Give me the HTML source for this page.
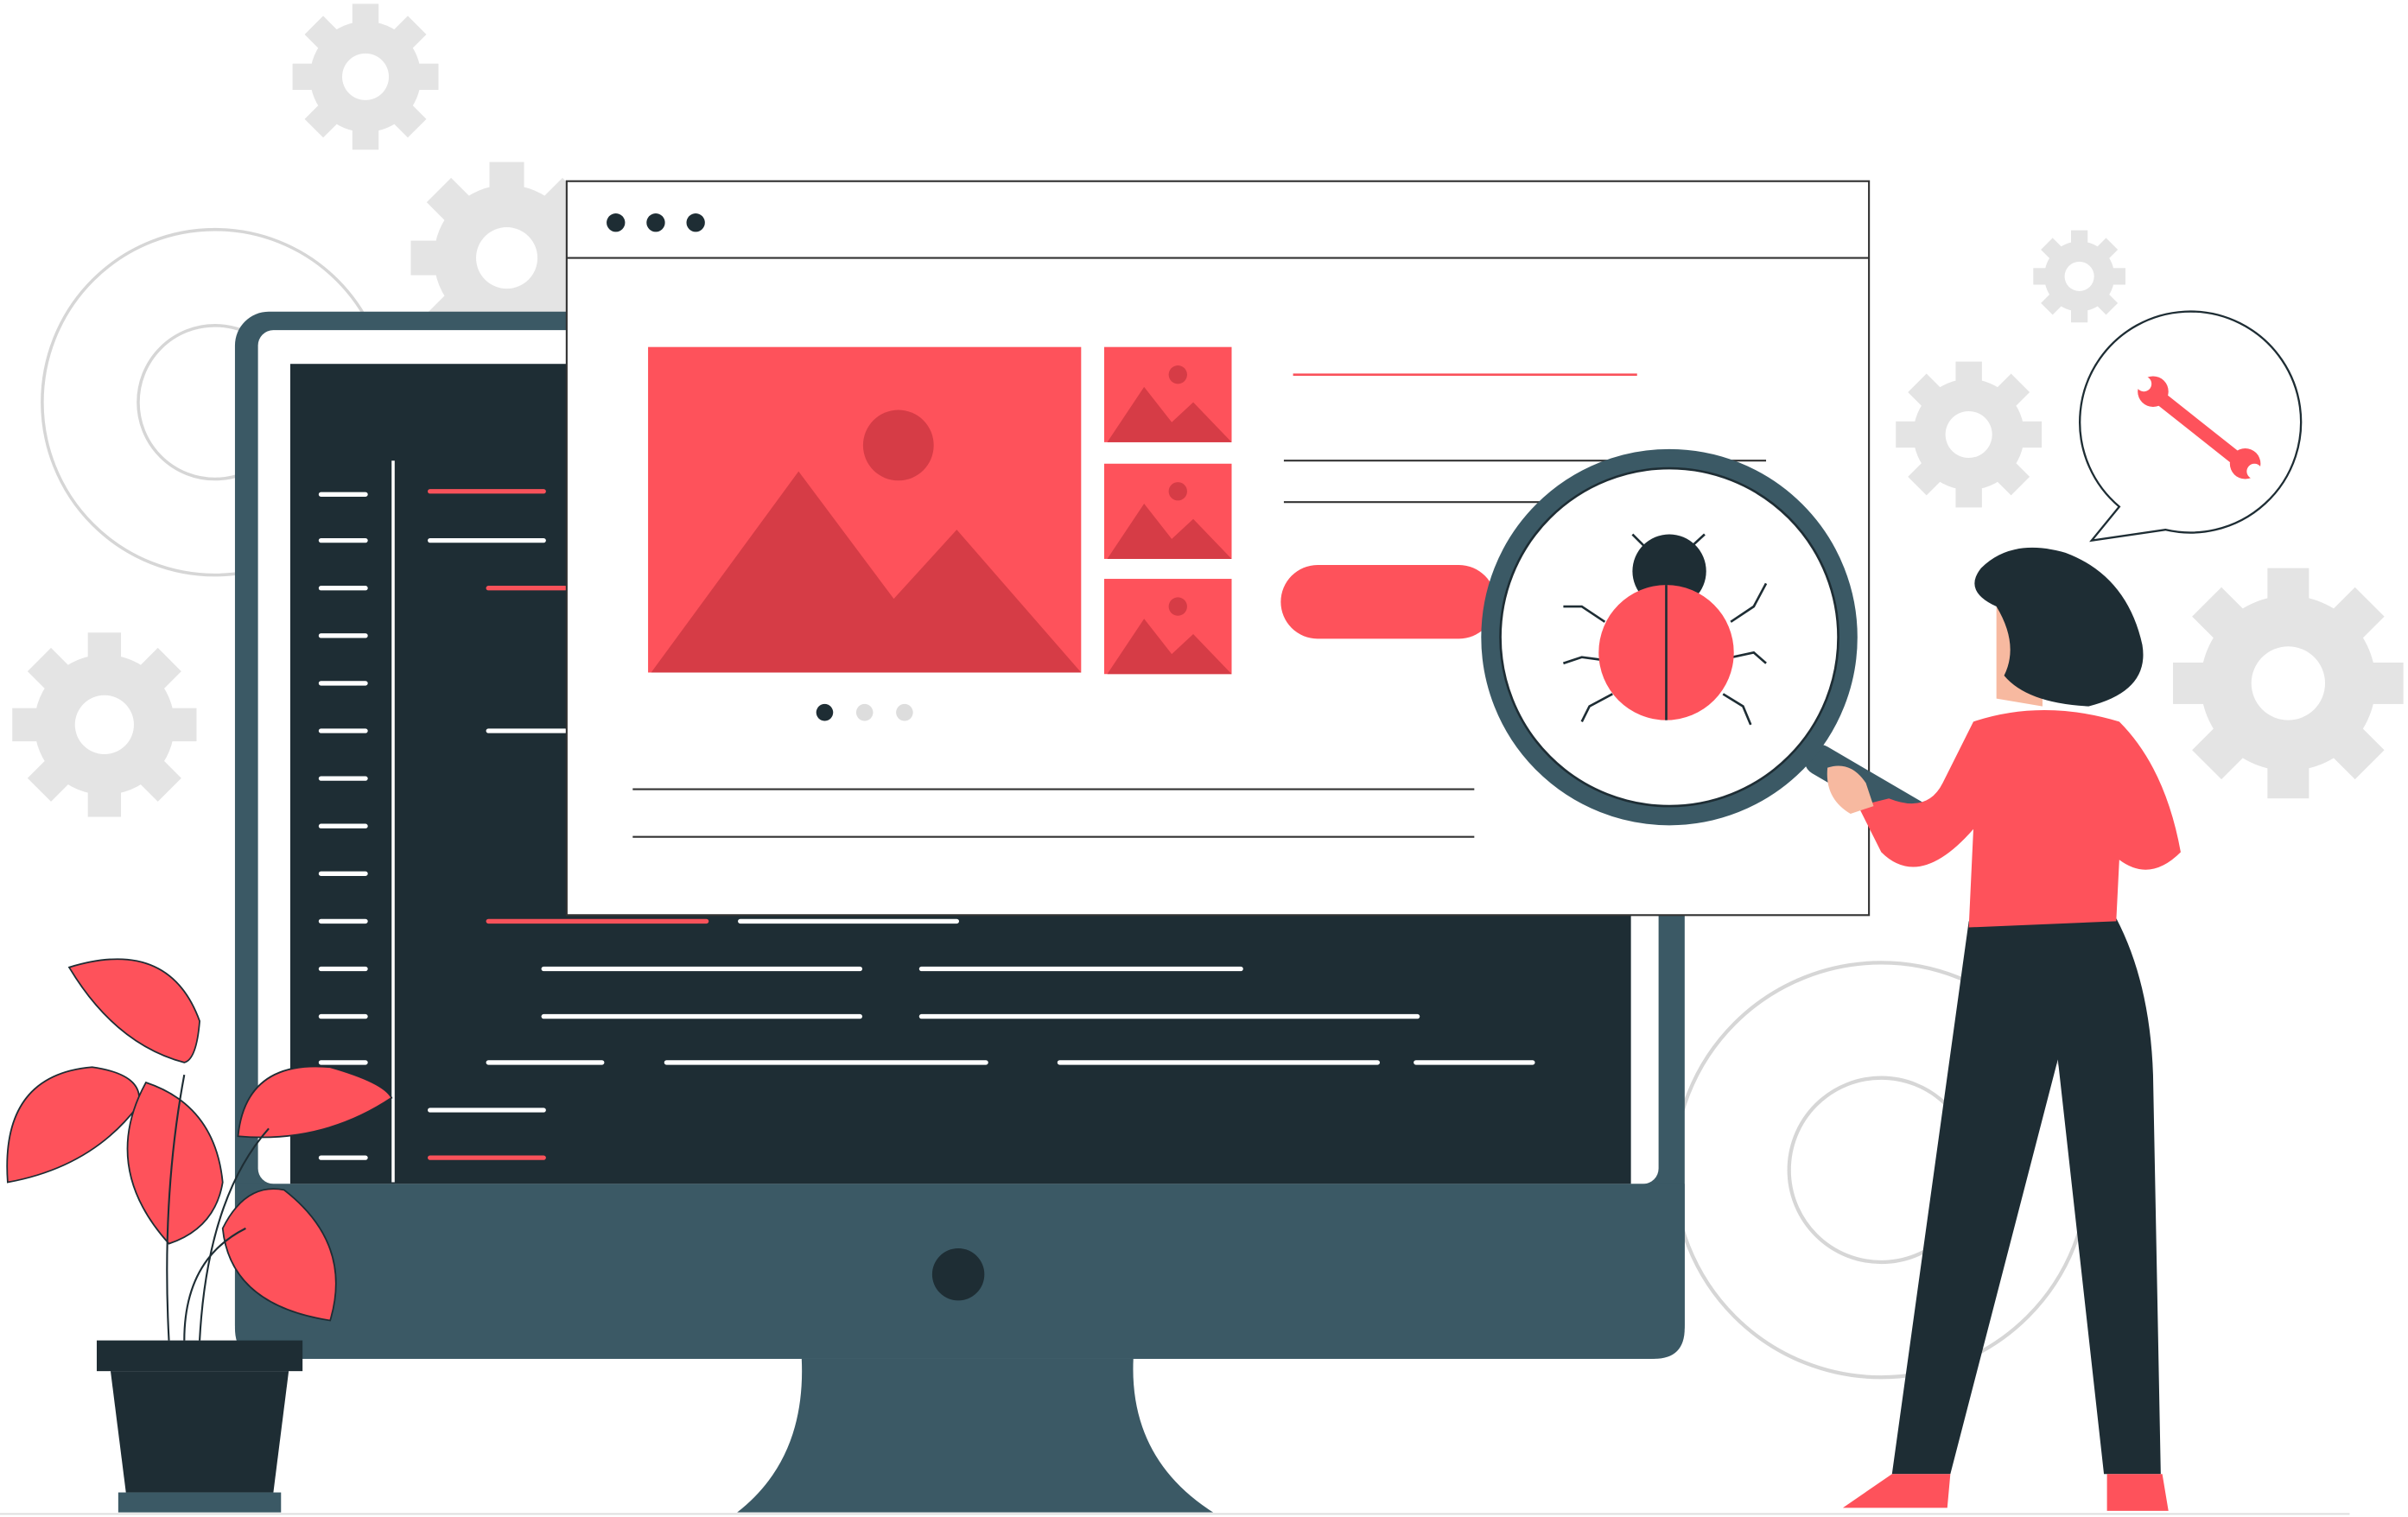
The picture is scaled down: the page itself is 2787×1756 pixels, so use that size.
<!DOCTYPE html>
<html><head><meta charset="utf-8"><style>
html,body{margin:0;padding:0;background:#fff;width:2787px;height:1756px;overflow:hidden}
svg{display:block}
</style></head><body>
<svg width="2787" height="1756" viewBox="0 0 1568 988" preserveAspectRatio="none" xmlns="http://www.w3.org/2000/svg">
<defs>
<g id="gear">
<circle r="38" fill="#e4e4e4"/>
<g fill="#e4e4e4">
<rect x="-9" y="-50" width="18" height="100"/>
<rect x="-9" y="-50" width="18" height="100" transform="rotate(45)"/>
<rect x="-9" y="-50" width="18" height="100" transform="rotate(90)"/>
<rect x="-9" y="-50" width="18" height="100" transform="rotate(135)"/>
</g>
<circle r="16" fill="#fff"/>
</g>
<g id="ogear" fill="none" stroke="#d6d6d6" stroke-width="1.6">
<circle r="90"/>
<circle r="40"/>
</g>
</defs>
<rect width="1568" height="988" fill="#fff"/>
<use href="#gear" transform="translate(238,50) scale(0.95)"/>
<use href="#gear" transform="translate(330,168) scale(1.25)"/>
<use href="#gear" transform="translate(68,472) scale(1.2)"/>
<use href="#gear" transform="translate(1354,180) scale(0.6)"/>
<use href="#gear" transform="translate(1282,283) scale(0.95)"/>
<use href="#gear" transform="translate(1490,445) scale(1.5)"/>
<use href="#ogear" transform="translate(140,262) scale(1.25)"/>
<use href="#ogear" transform="translate(1225,762) scale(1.5)"/>
<!-- monitor -->
<rect x="153" y="203" width="944" height="682" rx="22" fill="#3b5965"/>
<rect x="168" y="215" width="912" height="556" rx="10" fill="#fff"/>
<rect x="189" y="237" width="873" height="534" fill="#1e2d34"/>
<path d="M153 771 H1097 V865 Q1097 885 1077 885 H173 Q153 885 153 865 Z" fill="#3b5965"/>
<circle cx="624" cy="830" r="17" fill="#1e2d34"/>
<path d="M522 885 L738 885 Q735 950 790 985 L480 985 Q525 950 522 885Z" fill="#3b5965"/>
<line x1="256" y1="300" x2="256" y2="770" stroke="#fff" stroke-width="2"/>
<g stroke="#fff" stroke-width="3" stroke-linecap="round">
<line x1="209" y1="322" x2="238" y2="322"/><line x1="209" y1="352" x2="238" y2="352"/>
<line x1="209" y1="383" x2="238" y2="383"/><line x1="209" y1="414" x2="238" y2="414"/>
<line x1="209" y1="445" x2="238" y2="445"/><line x1="209" y1="476" x2="238" y2="476"/>
<line x1="209" y1="507" x2="238" y2="507"/><line x1="209" y1="538" x2="238" y2="538"/>
<line x1="209" y1="569" x2="238" y2="569"/><line x1="209" y1="600" x2="238" y2="600"/>
<line x1="209" y1="631" x2="238" y2="631"/><line x1="209" y1="662" x2="238" y2="662"/>
<line x1="209" y1="692" x2="238" y2="692"/><line x1="209" y1="723" x2="238" y2="723"/>
<line x1="209" y1="754" x2="238" y2="754"/>
<line x1="280" y1="352" x2="354" y2="352"/><line x1="318" y1="476" x2="368" y2="476"/>
<line x1="482" y1="600" x2="623" y2="600"/>
<line x1="354" y1="631" x2="560" y2="631"/><line x1="600" y1="631" x2="808" y2="631"/>
<line x1="354" y1="662" x2="560" y2="662"/><line x1="600" y1="662" x2="923" y2="662"/>
<line x1="318" y1="692" x2="392" y2="692"/><line x1="434" y1="692" x2="642" y2="692"/>
<line x1="690" y1="692" x2="897" y2="692"/><line x1="922" y1="692" x2="998" y2="692"/>
<line x1="280" y1="723" x2="354" y2="723"/>
</g>
<g stroke="#f9525a" stroke-width="3" stroke-linecap="round">
<line x1="280" y1="320" x2="354" y2="320"/><line x1="318" y1="383" x2="368" y2="383"/>
<line x1="318" y1="600" x2="460" y2="600"/><line x1="280" y1="754" x2="354" y2="754"/>
</g>
<!-- browser -->
<rect x="369" y="118" width="848" height="478" fill="#fff" stroke="#333" stroke-width="1.2"/>
<line x1="369" y1="168" x2="1217" y2="168" stroke="#333" stroke-width="1.2"/>
<circle cx="401" cy="145" r="6" fill="#1e2d34"/><circle cx="427" cy="145" r="6" fill="#1e2d34"/><circle cx="453" cy="145" r="6" fill="#1e2d34"/>
<rect x="422" y="226" width="282" height="212" fill="#fe525b"/>
<circle cx="585" cy="290" r="23" fill="#d63c46"/>
<path d="M424 438 L520 307 L582 390 L623 345 L704 438Z" fill="#d63c46"/>
<g fill="#fe525b">
<rect x="719" y="226" width="83" height="62"/><rect x="719" y="302" width="83" height="62"/><rect x="719" y="377" width="83" height="62"/>
</g>
<g fill="#d63c46">
<path d="M721 288 L745 252 L763 275 L777 262 L802 288Z"/><circle cx="767" cy="244" r="6"/>
<path d="M721 364 L745 328 L763 351 L777 338 L802 364Z"/><circle cx="767" cy="320" r="6"/>
<path d="M721 439 L745 403 L763 426 L777 413 L802 439Z"/><circle cx="767" cy="395" r="6"/>
</g>
<line x1="842" y1="244" x2="1066" y2="244" stroke="#f9525a" stroke-width="1.5"/>
<line x1="836" y1="300" x2="1150" y2="300" stroke="#333" stroke-width="1.2"/>
<line x1="836" y1="327" x2="1150" y2="327" stroke="#333" stroke-width="1.2"/>
<rect x="834" y="368" width="140" height="48" rx="24" fill="#fe525b"/>
<circle cx="537" cy="464" r="5.5" fill="#1e2d34"/><circle cx="563" cy="464" r="5.5" fill="#ddd"/><circle cx="589" cy="464" r="5.5" fill="#ddd"/>
<line x1="412" y1="514" x2="960" y2="514" stroke="#333" stroke-width="1.2"/>
<line x1="412" y1="545" x2="960" y2="545" stroke="#333" stroke-width="1.2"/>
<!-- magnifier -->
<line x1="1185" y1="495" x2="1262" y2="540" stroke="#3b5965" stroke-width="20" stroke-linecap="round"/>
<circle cx="1087" cy="415" r="116" fill="#fff" stroke="#3b5965" stroke-width="13"/>
<circle cx="1087" cy="415" r="110" fill="none" stroke="#1e2d34" stroke-width="1.5"/>
<g stroke="#1e2d34" stroke-width="1.5" fill="none">
<path d="M1045 405 L1030 395 L1018 395"/><path d="M1045 430 L1030 428 L1018 432"/><path d="M1050 452 L1035 460 L1030 470"/>
<path d="M1127 405 L1142 395 L1150 380"/><path d="M1128 428 L1142 425 L1150 432"/><path d="M1122 452 L1135 460 L1140 472"/>
<path d="M1075 360 L1063 348"/><path d="M1097 360 L1110 348"/>
</g>
<circle cx="1087" cy="372" r="24" fill="#1e2d34"/>
<circle cx="1085" cy="425" r="44" fill="#fe525b"/>
<line x1="1085" y1="381" x2="1085" y2="469" stroke="#1e2d34" stroke-width="1.5"/>
<!-- speech bubble -->
<path d="M1380 330 A72 72 0 1 1 1410 345 L1362 352 Z" fill="#fff" stroke="#1e2d34" stroke-width="1.3"/>
<g stroke="#fe525b" stroke-width="9" stroke-linecap="round"><line x1="1405" y1="258" x2="1458" y2="300"/></g>
<circle cx="1402" cy="255" r="10" fill="#fe525b"/><circle cx="1462" cy="302" r="10" fill="#fe525b"/>
<circle cx="1396" cy="250" r="5" fill="#fff"/><circle cx="1468" cy="307" r="5" fill="#fff"/>
<!-- woman -->
<path d="M1282 600 L1378 598 Q1400 640 1402 700 L1407 960 L1370 960 L1340 690 L1270 960 L1232 960 Z" fill="#1e2d34"/>
<path d="M1232 960 L1270 960 L1268 982 L1200 982 Z" fill="#fe525b"/>
<path d="M1372 960 L1408 960 L1412 984 L1372 984 Z" fill="#fe525b"/>
<path d="M1285 470 Q1330 455 1380 470 Q1410 500 1420 555 Q1400 575 1380 560 L1378 600 L1282 604 L1285 540 Q1250 580 1225 555 L1210 525 L1230 520 Q1255 530 1265 510 Z" fill="#fe525b"/>
<path d="M1190 500 Q1205 495 1215 510 L1220 525 L1205 530 Q1188 520 1190 500Z" fill="#f7b9a0"/>
<path d="M1300 395 L1330 395 L1330 460 L1300 455 Z" fill="#f7b9a0"/>
<path d="M1290 370 Q1310 350 1345 360 Q1385 375 1395 420 Q1400 450 1360 460 Q1320 458 1305 440 Q1315 420 1300 395 Q1278 385 1290 370Z" fill="#1e2d34"/>
<!-- plant -->
<g fill="#fe525b" stroke="#1e2d34" stroke-width="1">
<path d="M45 630 Q110 610 130 665 Q128 690 120 692 Q75 680 45 630Z"/>
<path d="M5 770 Q0 700 60 695 Q95 700 90 720 Q60 760 5 770Z"/>
<path d="M110 810 Q65 760 95 705 Q140 720 145 770 Q140 800 110 810Z"/>
<path d="M155 740 Q160 690 215 695 Q250 705 255 715 Q210 745 155 740Z"/>
<path d="M215 860 Q150 850 145 800 Q160 770 185 775 Q230 810 215 860Z"/>
</g>
<g stroke="#1e2d34" stroke-width="1.2" fill="none">
<path d="M110 873 Q105 780 120 700"/><path d="M130 873 Q135 780 175 735"/><path d="M120 873 Q120 820 160 800"/>
</g>
<rect x="63" y="873" width="134" height="20" fill="#1e2d34"/>
<path d="M72 893 L188 893 L178 972 L82 972Z" fill="#1e2d34"/>
<rect x="77" y="972" width="106" height="13" fill="#3b5965"/>
<line x1="0" y1="986" x2="1530" y2="986" stroke="#ddd" stroke-width="1"/>
</svg>
</body></html>
